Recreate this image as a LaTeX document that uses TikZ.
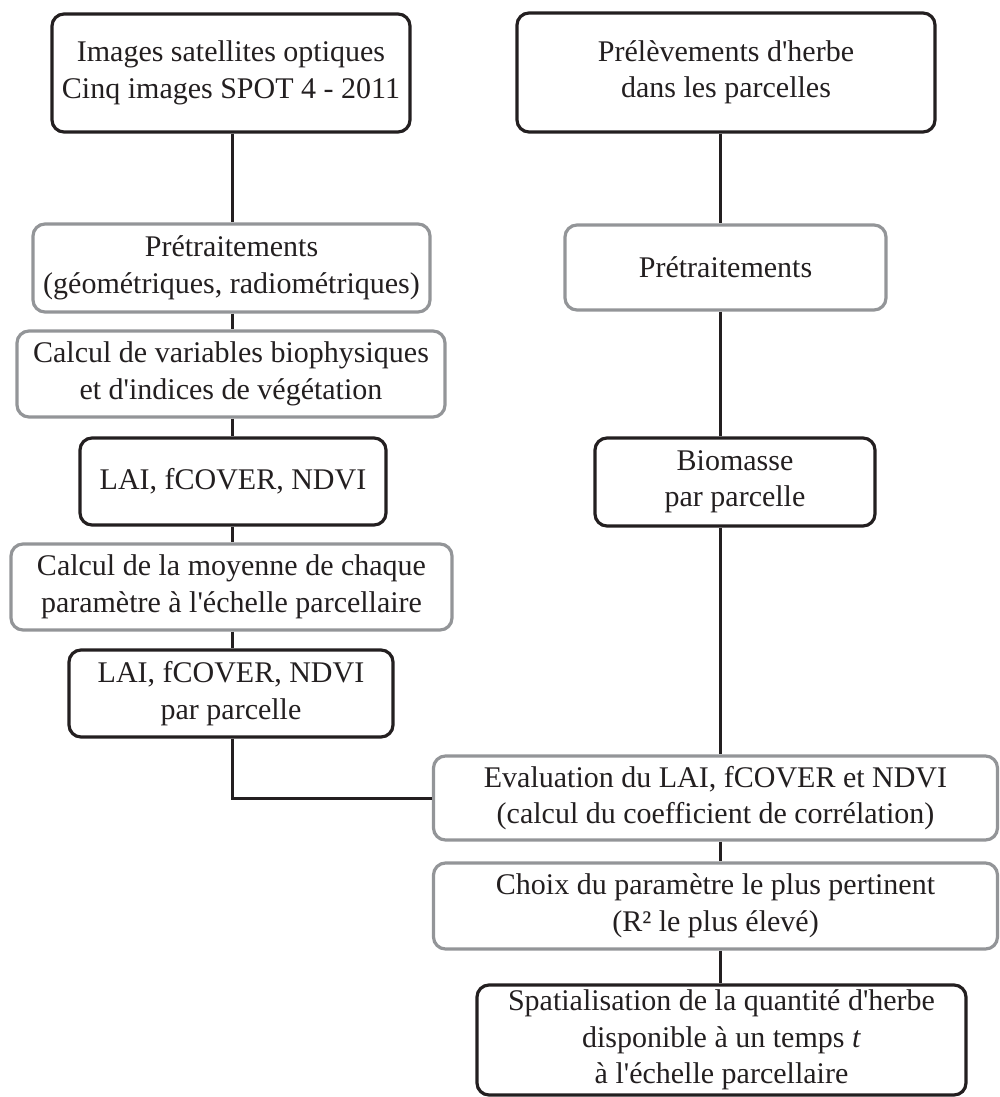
\documentclass[tikz,border=0pt]{standalone}
\usepackage{fontspec}
\setmainfont{Liberation Serif}[Ligatures=TeXOff]
\definecolor{ink}{HTML}{231F20}
\definecolor{greyline}{HTML}{939598}
\begin{document}
\begin{tikzpicture}[x=1pt,y=-1pt,
  box/.style={rectangle, rounded corners=12pt, line width=3.2pt, inner sep=0pt,
    align=center, text=ink, font=\fontsize{30}{36.5}\selectfont},
  blackbox/.style={box, draw=ink},
  greybox/.style={box, draw=greyline},
  link/.style={draw=ink, line width=3pt}]
\useasboundingbox (0,0) rectangle (1000,1097);

\node[blackbox, minimum width=358pt, minimum height=118pt] (b1) at (231,73)
  {Images satellites optiques\\Cinq images SPOT 4 - 2011};
\node[blackbox, minimum width=418pt, minimum height=119pt] (b2) at (726,72.5)
  {Prélèvements d'herbe\\dans les parcelles};
\node[greybox, minimum width=397pt, minimum height=88pt] (b3) at (231.5,268)
  {Prétraitements\\(géométriques, radiométriques)};
\node[greybox, minimum width=321pt, minimum height=85pt] (b4) at (725.5,267.5)
  {Prétraitements};
\node[greybox, minimum width=428pt, minimum height=86pt] (b5) at (231,374)
  {Calcul de variables biophysiques\\et d'indices de végétation};
\node[blackbox, minimum width=306pt, minimum height=87pt] (b6) at (233,481.5)
  {LAI, fCOVER, NDVI};
\node[blackbox, minimum width=280pt, minimum height=88pt] (b7) at (735,482)
  {Biomasse\\par parcelle};
\node[greybox, minimum width=441pt, minimum height=86pt] (b8) at (231.5,587)
  {Calcul de la moyenne de chaque\\paramètre à l'échelle parcellaire};
\node[blackbox, minimum width=324pt, minimum height=87pt] (b9) at (231,693.5)
  {LAI, fCOVER, NDVI\\par parcelle};
\node[greybox, minimum width=564pt, minimum height=84pt] (b10) at (715.5,798)
  {Evaluation du LAI, fCOVER et NDVI\\(calcul du coefficient de corrélation)};
\node[greybox, minimum width=564pt, minimum height=86pt] (b11) at (715.5,906)
  {Choix du paramètre le plus pertinent\\(R² le plus élevé)};
\node[blackbox, minimum width=489pt, minimum height=110pt] (b12) at (721.5,1040)
  {Spatialisation de la quantité d'herbe\\disponible à un temps \textit{t}\\à l'échelle parcellaire};

\coordinate (lx) at (232,0);
\coordinate (rx) at (720.5,0);

% left column
\draw[link] (b1.south -| lx) -- (b3.north -| lx);
\draw[link] (b3.south -| lx) -- (b5.north -| lx);
\draw[link] (b5.south -| lx) -- (b6.north -| lx);
\draw[link] (b6.south -| lx) -- (b8.north -| lx);
\draw[link] (b8.south -| lx) -- (b9.north -| lx);
\draw[link] (b9.south -| lx) -- (lx |- b10.west) -- (b10.west);

% right column
\draw[link] (b2.south -| rx) -- (b4.north -| rx);
\draw[link] (b4.south -| rx) -- (b7.north -| rx);
\draw[link] (b7.south -| rx) -- (b10.north -| rx);
\draw[link] (b10.south -| rx) -- (b11.north -| rx);
\draw[link] (b11.south -| rx) -- (b12.north -| rx);
\end{tikzpicture}
\end{document}
